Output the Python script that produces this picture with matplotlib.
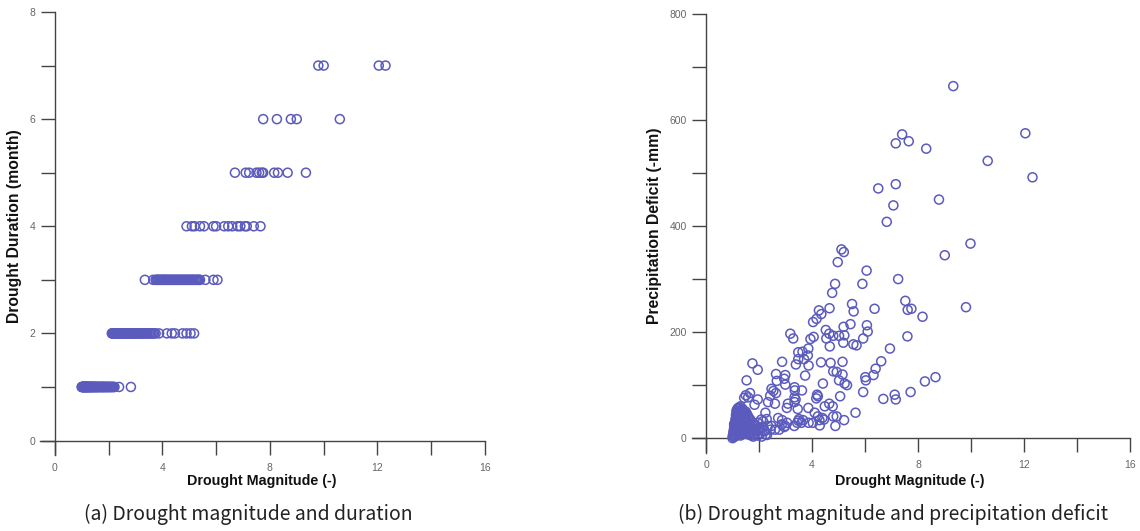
import matplotlib
matplotlib.use("Agg")
import matplotlib.pyplot as plt
from matplotlib.ticker import MultipleLocator

# drought magnitude for each event, grouped by duration (months) - panel (a)
mag_d1 = [1.0, 1.02, 1.04, 1.05, 1.07, 1.09, 1.1, 1.12, 1.14, 1.15, 1.17, 1.19,
          1.2, 1.23, 1.25, 1.27, 1.3, 1.32, 1.35, 1.37, 1.4, 1.43, 1.45, 1.48,
          1.5, 1.53, 1.56, 1.6, 1.63, 1.66, 1.7, 1.74, 1.78, 1.82, 1.86, 1.9,
          1.95, 2.0, 2.05, 2.1, 2.16, 2.22, 2.39, 2.83,
          1.01, 1.03, 1.06, 1.08, 1.11, 1.13, 1.16, 1.18, 1.21, 1.22, 1.26,
          1.28, 1.31, 1.34, 1.36, 1.39, 1.42, 1.47, 1.51, 1.55, 1.58, 1.62,
          1.68, 1.72, 1.76, 1.8, 1.84, 1.88, 1.93, 1.98, 2.03, 2.08, 2.13, 2.19]
mag_d2 = [2.12, 2.15, 2.2, 2.25, 2.3, 2.35, 2.4, 2.45, 2.5, 2.56, 2.62, 2.68,
          2.74, 2.8, 2.86, 2.92, 2.98, 3.05, 3.12, 3.2, 3.28, 3.36, 3.45, 3.55,
          3.65, 3.75, 3.88, 4.17, 4.35, 4.47, 4.75, 4.9, 5.05, 5.18,
          2.14, 2.18, 2.22, 2.28, 2.33, 2.38, 2.43, 2.48, 2.53, 2.59, 2.65,
          2.71, 2.77, 2.83, 2.89, 2.95, 3.02, 3.08, 3.16, 3.24, 3.32, 3.4, 3.5,
          3.6, 3.7]
mag_d3 = [3.35, 3.66, 3.75, 3.82, 3.9, 3.98, 4.05, 4.12, 4.2, 4.28, 4.36, 4.44,
          4.52, 4.6, 4.68, 4.76, 4.84, 4.92, 5.0, 5.08, 5.16, 5.25, 5.33, 5.4,
          5.6, 5.9, 6.05,
          3.79, 3.86, 3.94, 4.02, 4.09, 4.16, 4.24, 4.32, 4.4, 4.48, 4.56, 4.64,
          4.72, 4.8, 4.88, 4.96, 5.04, 5.12, 5.2, 5.29, 5.37]
mag_d4 = [4.9, 5.1, 5.2, 5.4, 5.55, 5.9, 6.0, 6.3, 6.45, 6.6, 6.8, 6.9, 7.07,
          7.14, 7.4, 7.65]
mag_d5 = [6.7, 7.1, 7.23, 7.5, 7.6, 7.7, 7.75, 8.16, 8.3, 8.66, 9.34]
mag_d6 = [7.75, 8.26, 8.78, 9.0, 10.6]
mag_d7 = [9.8, 10.0, 12.05, 12.3]

durations = [1, 2, 3, 4, 5, 6, 7]
mag_by_duration = [mag_d1, mag_d2, mag_d3, mag_d4, mag_d5, mag_d6, mag_d7]

# panel (b): magnitude vs precipitation deficit
mag_b = [9.33, 7.40, 7.16, 7.65, 8.31, 12.05, 10.63, 12.32, 6.50, 7.16, 8.79,
         7.07, 6.82, 9.98, 9.01, 5.11, 5.20, 4.97, 6.06, 7.25, 4.87, 5.90, 4.76,
         7.52, 5.51, 9.81, 4.66, 6.36, 7.61, 7.75, 5.57, 4.26, 4.35, 8.17, 4.17,
         4.04, 5.45, 6.07, 5.19, 4.52, 6.10, 3.18, 3.29, 4.06, 3.94, 4.54, 4.65,
         4.80, 5.02, 5.22, 5.93, 7.60, 5.18, 5.56, 5.68, 4.67, 6.94, 3.86, 3.48,
         3.64, 3.84, 3.48, 3.70, 3.39, 3.87, 2.87, 1.75, 1.95, 4.34, 4.70, 5.15,
         6.61, 6.40, 4.80, 4.93, 5.15, 6.32, 6.01, 6.03, 5.02, 5.23, 5.32, 3.74,
         2.64, 2.99, 2.95, 2.67, 2.99, 1.53, 4.41, 8.26, 8.66, 5.93, 7.72, 7.12,
         7.16, 6.69, 5.06, 5.64, 4.88, 5.21, 4.93, 4.80, 4.78, 4.65, 4.48, 4.19,
         4.22, 4.16, 3.86, 3.46, 3.34, 3.35, 3.34, 3.34, 3.62, 3.38, 2.47, 2.54,
         2.64, 2.42, 2.34, 2.60, 3.09, 3.05, 2.72, 2.86, 2.87, 2.95, 2.24, 2.29,
         2.08, 2.25, 2.21, 1.95, 1.83, 1.59, 1.44, 1.66, 1.50, 1.24, 4.10, 4.22,
         4.39, 4.28, 4.29, 4.03, 4.45, 3.66, 3.51, 3.48, 3.44, 3.33, 3.60, 3.87,
         3.06, 2.99, 2.76, 2.60, 2.47, 2.43, 2.34, 2.15, 1.95, 2.11, 1.98,
         1.0, 1.02, 1.03, 1.05, 1.05, 1.07, 1.08, 1.1, 1.1, 1.12, 1.12, 1.14,
         1.15, 1.16, 1.17, 1.18, 1.2, 1.2, 1.22, 1.22, 1.24, 1.25, 1.26, 1.28,
         1.3, 1.3, 1.32, 1.33, 1.35, 1.36, 1.38, 1.4, 1.42, 1.43, 1.45, 1.47,
         1.5, 1.5, 1.52, 1.55, 1.57, 1.6, 1.62, 1.65, 1.68, 1.7, 1.72, 1.75,
         1.8, 1.85, 1.9, 1.95, 2.0, 2.05, 2.1, 2.2, 2.3, 1.15, 1.18, 1.25, 1.35,
         1.45, 1.55, 1.28, 1.4, 1.6, 1.7, 1.12, 1.06, 1.09, 1.5, 1.62, 1.78]
deficit_b = [664, 573, 556, 560, 546, 575, 523, 492, 471, 479, 450, 439, 408,
             367, 345, 356, 351, 332, 316, 300, 291, 291, 274, 259, 253, 247,
             245, 244, 242, 244, 239, 241, 234, 229, 225, 219, 215, 213, 210,
             204, 201, 197, 188, 191, 187, 188, 197, 193, 193, 194, 188, 192,
             180, 177, 175, 173, 169, 169, 162, 163, 156, 149, 149, 139, 137,
             144, 141, 129, 143, 142, 144, 145, 131, 126, 125, 120, 119, 115,
             109, 109, 103, 100, 118, 121, 119, 112, 108, 101, 109, 103, 107,
             115, 87, 87, 82, 73, 74, 79, 48, 23, 34, 41, 41, 60, 65, 60, 82,
             79, 75, 57, 55, 96, 90, 77, 68, 90, 73, 93, 89, 85, 80, 68, 65, 65,
             57, 38, 26, 34, 21, 48, 36, 35, 7, 13, 73, 63, 77, 76, 85, 81, 57,
             48, 41, 38, 34, 24, 29, 35, 34, 36, 33, 29, 23, 29, 29, 29, 23, 16,
             16, 23, 16, 23, 32, 29, 21, 16,
             0, 3, 8, 12, 2, 18, 6, 24, 10, 30, 4, 35, 15, 40, 22, 8, 45, 28, 50,
             12, 35, 55, 20, 42, 60, 5, 30, 48, 15, 38, 55, 25, 8, 44, 30, 12,
             35, 50, 20, 10, 28, 40, 15, 6, 22, 32, 12, 18, 8, 25, 14, 5, 20,
             10, 3, 15, 6, 52, 47, 58, 52, 48, 45, 40, 36, 28, 20, 14, 26, 20,
             18, 30, 3]

# short, small events packed near the origin of panel (b)
mag_b_core = [1.01, 1.04, 1.06, 1.08, 1.11, 1.13, 1.16, 1.19, 1.21, 1.23, 1.27,
              1.29, 1.31, 1.34, 1.37, 1.39, 1.41, 1.44, 1.46, 1.48, 1.51, 1.53,
              1.56, 1.58, 1.61, 1.64, 1.67, 1.69, 1.73, 1.76, 1.82, 1.88]
deficit_b_core = [5, 14, 20, 28, 36, 44, 50, 56, 40, 25, 18, 52, 36, 10, 45, 22,
                  50, 18, 40, 28, 8, 45, 32, 16, 24, 10, 35, 20, 5, 28, 15, 10]

dur_ticks = [0, 2, 4, 6, 8]
def_ticks = [0, 200, 400, 600, 800]
mag_ticks = [0, 4, 8, 12, 16]

point_color = "#5b5bbd"
axis_color = "#444444"

plt.rcParams['font.family'] = ['Liberation Sans', 'DejaVu Sans']

fig = plt.figure(figsize=(11.4, 5.31), dpi=100)
ax1 = fig.add_axes([40 / 1140, 1 - 455 / 531, 445 / 1140, (455 - 12) / 531])
ax2 = fig.add_axes([692 / 1140, 1 - 453 / 531, 438 / 1140, (453 - 14) / 531])


def style(ax, ymajor, yminor):
    for s in ['top', 'right']:
        ax.spines[s].set_visible(False)
    ax.spines['left'].set_position(('data', 0))
    ax.spines['bottom'].set_position(('data', 0))
    for s in ['left', 'bottom']:
        ax.spines[s].set_color(axis_color)
        ax.spines[s].set_linewidth(1.0)
    ax.xaxis.set_major_locator(MultipleLocator(4))
    ax.xaxis.set_minor_locator(MultipleLocator(2))
    ax.yaxis.set_major_locator(MultipleLocator(ymajor))
    ax.yaxis.set_minor_locator(MultipleLocator(yminor))
    ax.tick_params(which='both', direction='out', length=10, width=1.0,
                   color=axis_color, labelsize=7.5, labelcolor='#666666')
    ax.tick_params(axis='x', pad=6)
    ax.tick_params(axis='y', pad=4)
    ax.patch.set_alpha(0)


for d, mags in zip(durations, mag_by_duration):
    ax1.scatter(mags, [d] * len(mags), s=42, facecolors='none',
                edgecolors=point_color, linewidths=1.1, zorder=3)
ax1.set_xlim(-0.55, 16)
ax1.set_ylim(-0.27, 8)
style(ax1, 2, 1)
ax1.set_xticks(mag_ticks)
ax1.set_yticks(dur_ticks)

ax2.scatter(mag_b + mag_b_core, deficit_b + deficit_b_core, s=42,
            facecolors='none', edgecolors=point_color, linewidths=1.1, zorder=3)
ax2.set_xlim(-0.53, 16)
ax2.set_ylim(-28, 800)
style(ax2, 200, 100)
ax2.set_xticks(mag_ticks)
ax2.set_yticks(def_ticks)

lab = dict(fontweight='bold', color='#111111')
fig.text(262 / 1140, 1 - 481 / 531, 'Drought Magnitude (-)', ha='center',
         va='center', fontsize=10.3, **lab)
fig.text(910 / 1140, 1 - 481 / 531, 'Drought Magnitude (-)', ha='center',
         va='center', fontsize=10.3, **lab)
fig.text(15 / 1140, 1 - 226 / 531, 'Drought Duration (month)', rotation=90,
         ha='center', va='center', fontsize=11.3, **lab)
fig.text(655 / 1140, 1 - 226 / 531, 'Precipitation Deficit (-mm)', rotation=90,
         ha='center', va='center', fontsize=11.3, **lab)

cap = dict(family=['Noto Sans CJK KR', 'DejaVu Sans'], fontweight='light',
           fontsize=14, color='#222222', ha='center', va='center')
fig.text(248 / 1140, 1 - 514 / 531, '(a) Drought magnitude and duration', **cap)
fig.text(893 / 1140, 1 - 514 / 531,
         '(b) Drought magnitude and precipitation deficit', **cap)

fig.savefig('out.png', dpi=100)
